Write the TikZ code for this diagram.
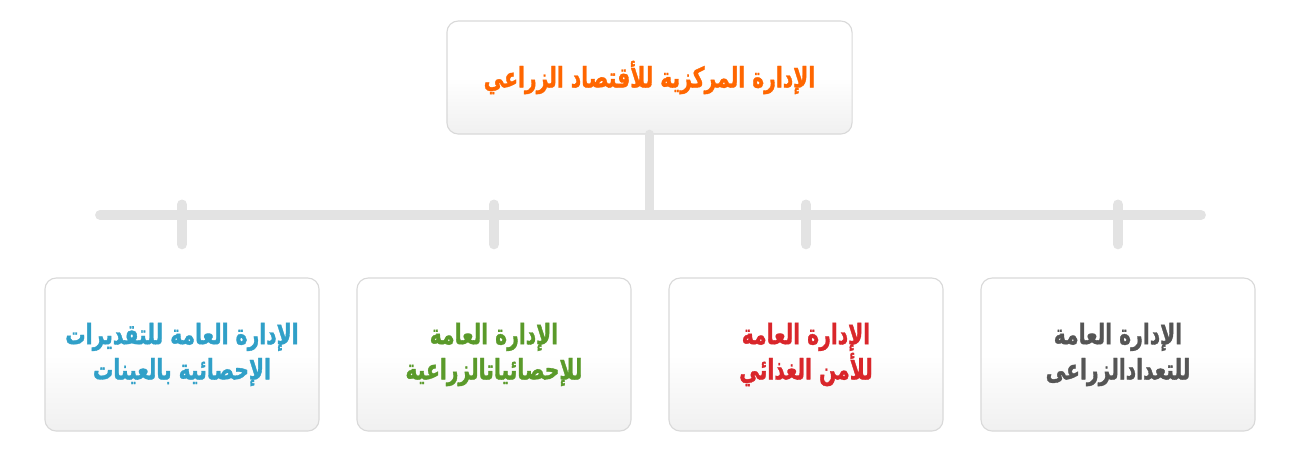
\documentclass[tikz,border=0pt]{standalone}
\usepackage{fontspec}
\newfontfamily\arabicfont[Script=Arabic, FakeStretch=0.72, BoldFeatures={FakeBold=1.2}]{DejaVu Sans}
\TeXXeTstate=1
\usetikzlibrary{positioning}

\definecolor{linegray}{HTML}{E3E3E3}
\definecolor{boxedge}{HTML}{D9D9D9}
\definecolor{shadegray}{HTML}{F0F0F0}
\definecolor{deptorange}{HTML}{FF6600}
\definecolor{deptblue}{HTML}{30A0C8}
\definecolor{deptgreen}{HTML}{5A9A2A}
\definecolor{deptred}{HTML}{D9262B}
\definecolor{deptgray}{HTML}{555555}

\newcommand{\artxt}[1]{\beginR #1\endR}

\begin{document}
\begin{tikzpicture}[x=0.025cm, y=-0.025cm,
  unitbox/.style={draw=boxedge, line width=0.8pt, rounded corners=8pt,
    top color=white, bottom color=shadegray, middle color=white,
    inner sep=0pt, align=center,
    font=\arabicfont\bfseries\fontsize{20}{25}\selectfont},
  link/.style={linegray, line width=7pt, line cap=round}]

\useasboundingbox (0,0) rectangle (1300,461);

% ---------- Head office ----------
\node[unitbox, text=deptorange, minimum width=10.125cm, minimum height=2.825cm]
  (head) at (649.5,77.5) {\artxt{الإدارة المركزية للأقتصاد الزراعي}};

% ---------- General departments ----------
\foreach \n/\x/\col/\lineA/\lineB in {
    unitA/182/deptblue/{الإدارة العامة للتقديرات}/{الإحصائية بالعينات},
    unitB/494/deptgreen/{الإدارة العامة}/{للإحصائياتالزراعية},
    unitC/806/deptred/{الإدارة العامة}/{للأمن الغذائي},
    unitD/1118/deptgray/{الإدارة العامة}/{للتعدادالزراعى}} {
  \node[unitbox, text=\col, minimum width=6.85cm, minimum height=3.825cm]
    (\n) at (\x,354.5) {\artxt{\lineA}\\\artxt{\lineB}};
}

% ---------- Connectors ----------
\coordinate (barL) at (100,215);
\coordinate (barR) at (1201,215);
\draw[link] (barL) -- (barR);
\draw[link] (head.south) -- (head.south |- barL);

% short ticks above each department (not touching the boxes)
\foreach \n in {unitA, unitB, unitC, unitD} {
  \path (\n.north) ++(0,-33) coordinate (\n lo) ++(0,-40) coordinate (\n hi);
  \draw[link] (\n lo) -- (\n hi);
}

\end{tikzpicture}
\end{document}
